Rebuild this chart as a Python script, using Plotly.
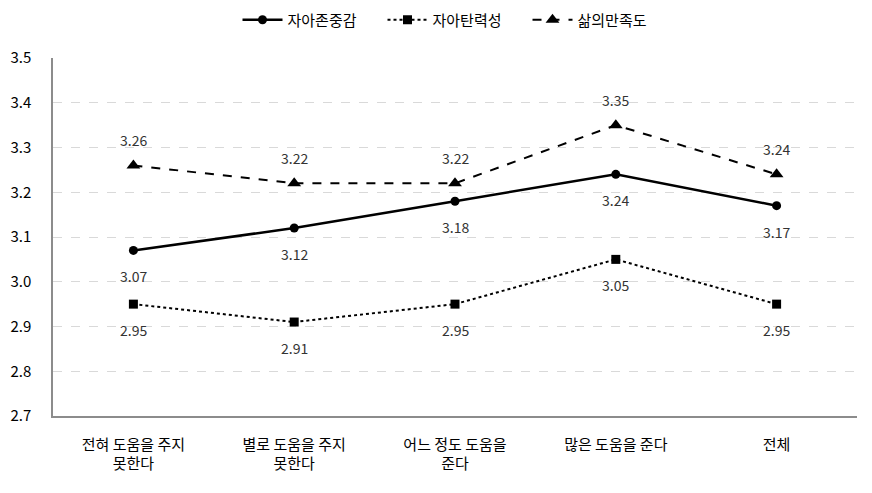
import plotly.graph_objects as go

categories = ["전혀 도움을 주지<br>못한다", "별로 도움을 주지<br>못한다", "어느 정도 도움을<br>준다", "많은 도움을 준다", "전체"]
self_esteem = [3.07, 3.12, 3.18, 3.24, 3.17]
resilience = [2.95, 2.91, 2.95, 3.05, 2.95]
life_satisfaction = [3.26, 3.22, 3.22, 3.35, 3.24]
y_ticks = [2.7, 2.8, 2.9, 3.0, 3.1, 3.2, 3.3, 3.4, 3.5]

FONT = "Noto Sans CJK KR"
fig = go.Figure()

series = [
    ("자아존중감", self_esteem, "solid", 2.5, "circle", 9, -26),
    ("자아탄력성", resilience, "dot", 2, "square", 9, -26),
    ("삶의만족도", life_satisfaction, "dash", 2, "triangle-up", 12, 25),
]
for name, vals, dash, lw, sym, ms, shift in series:
    fig.add_trace(go.Scatter(
        x=categories, y=vals, name=name, mode="lines+markers",
        line=dict(color="black", width=lw, dash=dash),
        marker=dict(symbol=sym, size=ms, color="black"),
    ))
    for c, v in zip(categories, vals):
        fig.add_annotation(x=c, y=v, text=f"{v:.2f}", showarrow=False,
                           yshift=shift, font=dict(size=14, color="#333333", family=FONT))

fig.update_layout(
    width=872, height=493,
    margin=dict(l=45, r=23, t=50, b=85, autoexpand=False),
    paper_bgcolor="white", plot_bgcolor="white",
    font=dict(family=FONT, size=15, color="black"),
    showlegend=True,
    legend=dict(orientation="h", x=0.5, xanchor="center", y=1.106, yanchor="middle",
                font=dict(size=15, family=FONT), itemwidth=40,
                entrywidth=90, entrywidthmode="pixels"),
    xaxis=dict(
        range=[-0.5, 4.5],
        showline=True, linecolor="#8c8c8c", linewidth=1.5, automargin=False,
        showgrid=False, ticks="", ticklabelstandoff=14,
        tickfont=dict(size=15, family=FONT),
    ),
    yaxis=dict(
        range=[2.7, 3.5], tickvals=y_ticks, ticktext=[f"{v:.1f}" for v in y_ticks],
        showline=True, linecolor="#8c8c8c", linewidth=1.5, automargin=False,
        showgrid=True, gridcolor="#d9d9d9", griddash="dash", gridwidth=1,
        zeroline=False, ticks="", ticklabelstandoff=17,
        tickfont=dict(size=15, family=FONT),
    ),
)

fig.write_html("out.html")
